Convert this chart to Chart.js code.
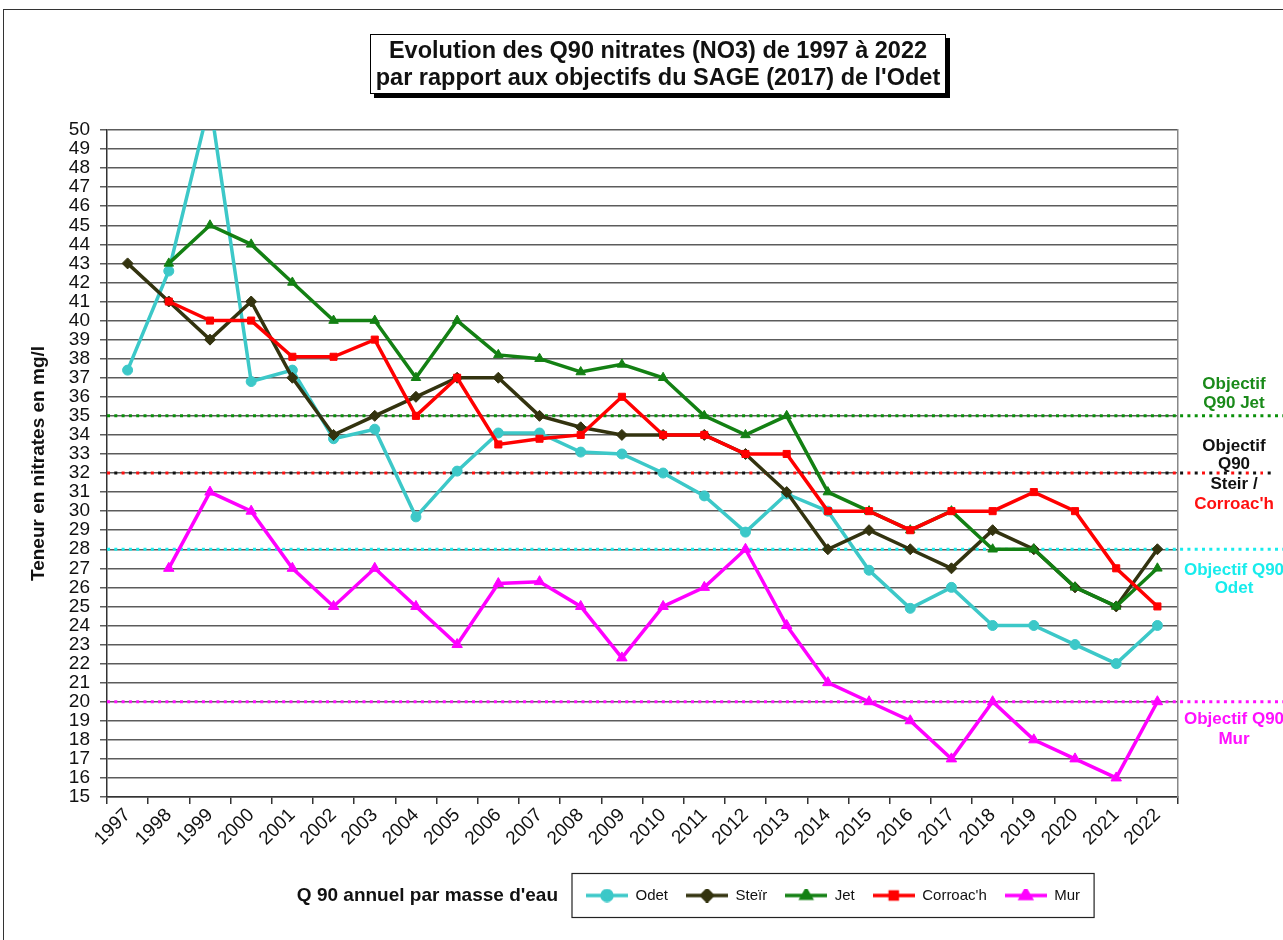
<!DOCTYPE html>
<html>
<head>
<meta charset="utf-8">
<script src="https://cdn.jsdelivr.net/npm/chart.js@4.4.1/dist/chart.umd.min.js"></script>
<style>
  html, body { margin: 0; padding: 0; background: #fff; }
  #wrap { position: relative; width: 1283px; height: 940px; overflow: hidden; }
  #frame { position: absolute; left: 3px; top: 9px; width: 1300px; height: 960px; border: 1.5px solid #333; }
  #chart { position: absolute; left: 0; top: 0; }
  #title {
    position: absolute; left: 370px; top: 34px; width: 574px; height: 56px;
    border: 1.5px solid #000; box-shadow: 4px 4px 0 #000; background: #fff;
    font: bold 23.5px "Liberation Sans", Arial, sans-serif; color: #111;
    text-align: center; line-height: 27px; padding-top: 2px;
  }
</style>
</head>
<body>
<div id="wrap">
  <div id="frame"></div>
  <canvas id="chart" width="1283" height="940"></canvas>
  <div id="title">Evolution des Q90 nitrates (NO3) de 1997 à 2022<br>par rapport aux objectifs du SAGE (2017) de l'Odet</div>
</div>
<script>
// Years on the x axis
const years = ['1997', '1998', '1999', '2000', '2001', '2002', '2003', '2004', '2005', '2006', '2007', '2008', '2009',
  '2010', '2011', '2012', '2013', '2014', '2015', '2016', '2017', '2018', '2019', '2020', '2021', '2022'];

// Q90 values (mg/l) per water body
const odet = [37.4, 42.6, 51.5, 36.8, 37.4, 33.8, 34.3, 29.7, 32.1, 34.1, 34.1, 33.1, 33.0, 32.0, 30.8, 28.9, 30.9, 30.0, 26.9, 24.9, 26.0, 24.0, 24.0, 23.0, 22.0, 24.0];
const steir = [43, 41, 39, 41, 37, 34, 35, 36, 37, 37, 35, 34.4, 34, 34, 34, 33, 31, 28, 29, 28, 27, 29, 28, 26, 25, 28];
const jet = [null, 43, 45, 44, 42, 40, 40, 37, 40, 38.2, 38.0, 37.3, 37.7, 37.0, 35, 34, 35, 31, 30, 29, 30, 28, 28, 26, 25, 27];
const corroach = [null, 41, 40, 40, 38.1, 38.1, 39, 35, 37, 33.5, 33.8, 34, 36, 34, 34, 33, 33, 30, 30, 29, 30, 30, 31, 30, 27, 25];
const mur = [null, 27, 31, 30, 27, 25, 27, 25, 23, 26.2, 26.3, 25, 22.3, 25, 26, 28, 24, 21, 20, 19, 17, 20, 18, 17, 16, 20];

// SAGE objectives
const objJet = 35;
const objSteirCorroach = 32;
const objOdet = 28;
const objMur = 20;

// y axis range
const yMin = 15;
const yMax = 50;

const legendCaption = "Q 90 annuel par masse d'eau";

const font = '"Liberation Sans", Arial, sans-serif';
Chart.defaults.font.family = font;

// small line + marker picture for each legend entry
function makeIcon(color, style, radius) {
  const c = document.createElement('canvas');
  c.width = 42;
  c.height = 14;
  const g = c.getContext('2d');
  g.strokeStyle = color;
  g.lineWidth = 3.5;
  g.beginPath();
  g.moveTo(0, 7);
  g.lineTo(42, 7);
  g.stroke();
  g.fillStyle = color;
  Chart.helpers.drawPoint(g, { pointStyle: style, radius: radius, borderWidth: 1 }, 21, 7);
  return c;
}

const series = [
  { label: 'Odet', data: odet, color: '#3cc8c8', style: 'circle', r: 5 },
  { label: 'Steïr', data: steir, color: '#33330f', style: 'rectRot', r: 5.5 },
  { label: 'Jet', data: jet, color: '#138013', style: 'triangle', r: 5.5 },
  { label: "Corroac'h", data: corroach, color: '#ff0000', style: 'rect', r: 5 },
  { label: 'Mur', data: mur, color: '#ff00ff', style: 'triangle', r: 6 }
];

// dotted objective lines, drawn from the y scale
const objectiveLines = [
  { value: objJet, color: '#0a900a', dash: [3, 4.3], offset: 0, extra: 200 },
  { value: objSteirCorroach, color: '#111111', dash: [3, 11.6], offset: 7.3, extra: 95 },
  { value: objSteirCorroach, color: '#ff1010', dash: [3, 11.6], offset: 0, extra: 85 },
  { value: objOdet, color: '#18ecec', dash: [3, 4.3], offset: 0, extra: 200 },
  { value: objMur, color: '#ff10ff', dash: [3, 4.3], offset: 0, extra: 200 }
];

// text blocks to the right of the plot
const objectiveTexts = [
  { value: objJet, lines: [['Objectif', '#1a8a1a', -32], ['Q90 Jet', '#1a8a1a', -13]] },
  { value: objSteirCorroach, lines: [['Objectif', '#111', -27], ['Q90', '#111', -9], ['Steir /', '#111', 11], ["Corroac'h", '#ff1010', 31]] },
  { value: objOdet, lines: [['Objectif Q90', '#18ecec', 21], ['Odet', '#18ecec', 39]] },
  { value: objMur, lines: [['Objectif Q90', '#ff10ff', 18], ['Mur', '#ff10ff', 38]] }
];

const objectivesPlugin = {
  id: 'objectives',
  afterLayout(chart) {
    // move the legend row so it sits right of its caption
    const lg = chart.legend;
    const pad = lg.options.labels.padding;
    const start = (lg.left + pad + lg.right - lg.lineWidths[0]) / 2;
    const dx = 586 - start;
    lg.left += dx;
    lg.right += dx;
    lg.top += 6;
    lg.bottom += 6;
  },
  beforeDatasetsDraw(chart) {
    const ctx = chart.ctx;
    const area = chart.chartArea;
    const y = chart.scales.y;
    ctx.save();
    objectiveLines.forEach(o => {
      const py = y.getPixelForValue(o.value);
      ctx.strokeStyle = o.color;
      ctx.lineWidth = 3;
      ctx.setLineDash(o.dash);
      ctx.lineDashOffset = o.offset;
      ctx.beginPath();
      ctx.moveTo(area.left, py);
      ctx.lineTo(area.right + o.extra, py);
      ctx.stroke();
    });
    ctx.restore();
  },
  afterDraw(chart) {
    const ctx = chart.ctx;
    const area = chart.chartArea;
    const y = chart.scales.y;
    ctx.save();
    ctx.font = 'bold 17px ' + font;
    ctx.textAlign = 'center';
    ctx.textBaseline = 'middle';
    objectiveTexts.forEach(t => {
      const py = y.getPixelForValue(t.value);
      t.lines.forEach(([txt, col, off]) => {
        ctx.fillStyle = col;
        ctx.fillText(txt, area.right + 56, py + off);
      });
    });

    // frame round the legend and its caption
    const hb = chart.legend.legendHitBoxes;
    const first = hb[0];
    const last = hb[hb.length - 1];
    const cy = first.top + first.height / 2;
    const bx = first.left - 14;
    const bw = last.left + last.width + 14 - bx;
    ctx.strokeStyle = '#222';
    ctx.lineWidth = 1.2;
    ctx.setLineDash([]);
    ctx.strokeRect(bx, cy - 22, bw, 44);
    ctx.font = 'bold 19px ' + font;
    ctx.textAlign = 'right';
    ctx.fillStyle = '#111';
    ctx.fillText(legendCaption, bx - 14, cy);
    ctx.restore();
  }
};

const datasets = series.map((s, i) => ({
  label: s.label,
  data: s.data,
  borderColor: s.color,
  backgroundColor: s.color,
  borderWidth: 3.5,
  pointStyle: s.style,
  pointRadius: s.r,
  pointBorderWidth: 1,
  pointBackgroundColor: s.color,
  pointBorderColor: s.color,
  tension: 0,
  spanGaps: false,
  clip: 0,
  order: series.length - i
}));

const legendIcons = series.map(s => makeIcon(s.color, s.style, s.r));

new Chart(document.getElementById('chart'), {
  type: 'line',
  data: { labels: years, datasets: datasets },
  options: {
    responsive: false,
    animation: false,
    layout: { padding: { left: 0, right: 105, top: 130, bottom: 33 } },
    plugins: {
      tooltip: { enabled: false },
      title: { display: false },
      legend: {
        position: 'bottom',
        labels: {
          usePointStyle: true,
          pointStyleWidth: 42,
          boxHeight: 14,
          padding: 18,
          color: '#111',
          font: { size: 15 },
          generateLabels: chart => chart.data.datasets.map((ds, i) => ({
            text: ds.label,
            pointStyle: legendIcons[i],
            datasetIndex: i,
            fontColor: '#111',
            lineWidth: 0,
            strokeStyle: 'transparent',
            fillStyle: 'transparent',
            hidden: false
          }))
        }
      }
    },
    scales: {
      x: {
        type: 'category',
        offset: true,
        grid: { drawOnChartArea: false, offset: true, tickLength: 7, color: '#333', lineWidth: 1.5 },
        border: { color: '#333', width: 1.5 },
        ticks: { font: { size: 19 }, color: '#111', maxRotation: 45, minRotation: 45, autoSkip: false, padding: 0 },
        afterFit: s => { s.height = 67; }
      },
      y: {
        min: yMin,
        max: yMax,
        ticks: { stepSize: 1, autoSkip: false, font: { size: 19 }, color: '#111', padding: 10 },
        grid: { color: '#5c5c5c', lineWidth: 1.5, tickLength: 7 },
        border: { color: '#333', width: 1.5 },
        title: { display: true, text: 'Teneur en nitrates en mg/l', color: '#111', font: { size: 19, weight: 'bold' }, padding: { top: 27, bottom: 0 } },
        afterFit: s => { s.width = 107; }
      },
      yR: {
        position: 'right',
        min: yMin,
        max: yMax,
        ticks: { display: false },
        grid: { drawOnChartArea: false, drawTicks: false },
        border: { color: '#888', width: 1.5 },
        afterFit: s => { s.width = 0; }
      }
    }
  },
  plugins: [objectivesPlugin]
});
</script>
</body>
</html>
